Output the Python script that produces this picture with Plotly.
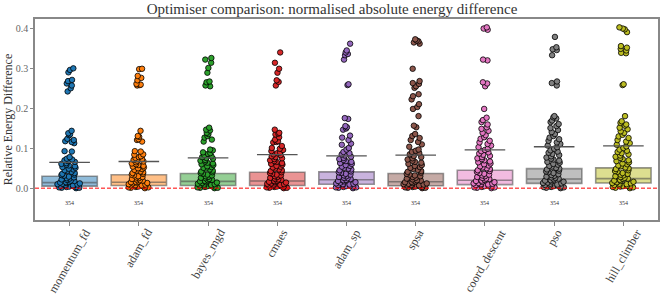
import plotly.graph_objects as go

optimisers = ["momentum_fd", "adam_fd", "bayes_mgd", "cmaes", "adam_sp",
              "spsa", "coord_descent", "pso", "hill_climber"]
colours = ["#1f77b4", "#ff7f0e", "#2ca02c", "#d62728", "#9467bd",
           "#8c564b", "#e377c2", "#7f7f7f", "#bcbd22"]
box_fill = ["rgba(31,119,180,0.5)", "rgba(255,127,14,0.5)", "rgba(44,160,44,0.5)",
            "rgba(214,39,40,0.5)", "rgba(148,103,189,0.5)", "rgba(140,86,75,0.5)",
            "rgba(227,119,194,0.5)", "rgba(127,127,127,0.5)", "rgba(188,189,34,0.5)"]

q1 = [0.005, 0.0065, 0.0065, 0.0065, 0.010, 0.006, 0.009, 0.012, 0.013]
median = [0.014, 0.015, 0.017, 0.018, 0.021, 0.016, 0.020, 0.023, 0.024]
q3 = [0.030, 0.0335, 0.037, 0.040, 0.041, 0.037, 0.045, 0.049, 0.051]
means = [0.065, 0.067, 0.076, 0.084, 0.081, 0.083, 0.096, 0.104, 0.106]
counts = [354, 354, 354, 354, 354, 354, 354, 354, 354]

# per-optimiser samples (tail + dense bulk)
momentum_fd = [0.301, 0.297, 0.291, 0.272, 0.269, 0.263, 0.258, 0.251, 0.243,
               0.144, 0.138, 0.135, 0.133, 0.124, 0.121, 0.118, 0.116, 0.113, 0.093, 0.092, 0.078,
               0.000, 0.001, 0.001, 0.002, 0.003, 0.003, 0.004, 0.005, 0.006, 0.006, 0.007, 0.008,
               0.009, 0.010, 0.011, 0.012, 0.013, 0.014, 0.015, 0.016, 0.018, 0.019, 0.021, 0.022,
               0.024, 0.025, 0.027, 0.029, 0.031, 0.033, 0.034, 0.036, 0.038, 0.041, 0.043, 0.045,
               0.047, 0.049, 0.051, 0.053, 0.055, 0.057, 0.059, 0.061, 0.063, 0.066, 0.068, 0.070,
               0.072, 0.074]
adam_fd = [0.300, 0.299, 0.282, 0.277, 0.271, 0.262, 0.260, 0.259, 0.258,
           0.144, 0.131, 0.129, 0.123, 0.121, 0.117, 0.093, 0.092, 0.085, 0.084, 0.080,
           0.000, 0.001, 0.002, 0.002, 0.003, 0.004, 0.004, 0.005, 0.006, 0.007, 0.007, 0.008,
           0.009, 0.010, 0.012, 0.013, 0.014, 0.015, 0.016, 0.017, 0.019, 0.020, 0.022, 0.023,
           0.025, 0.027, 0.028, 0.030, 0.032, 0.034, 0.036, 0.038, 0.040, 0.042, 0.044, 0.046,
           0.048, 0.050, 0.052, 0.054, 0.056, 0.058, 0.060, 0.062, 0.065, 0.067, 0.069, 0.071,
           0.073, 0.076, 0.078]
bayes_mgd = [0.327, 0.323, 0.315, 0.302, 0.290, 0.268, 0.266, 0.258, 0.256,
             0.152, 0.147, 0.145, 0.139, 0.136, 0.131, 0.127, 0.122, 0.117, 0.097, 0.095, 0.090,
             0.088, 0.086, 0.000, 0.001, 0.001, 0.002, 0.003, 0.004, 0.005, 0.005, 0.006, 0.007,
             0.008, 0.009, 0.010, 0.011, 0.013, 0.014, 0.015, 0.017, 0.018, 0.020, 0.021, 0.023,
             0.025, 0.026, 0.028, 0.030, 0.032, 0.034, 0.036, 0.038, 0.040, 0.042, 0.044, 0.047,
             0.049, 0.051, 0.053, 0.055, 0.058, 0.060, 0.062, 0.064, 0.067, 0.069, 0.071, 0.074,
             0.076, 0.078, 0.080, 0.083]
cmaes = [0.341, 0.315, 0.300, 0.290, 0.271, 0.267, 0.258,
         0.147, 0.139, 0.137, 0.135, 0.128, 0.122, 0.118, 0.116, 0.115, 0.106, 0.101, 0.099,
         0.000, 0.001, 0.001, 0.002, 0.003, 0.004, 0.004, 0.005, 0.006, 0.007, 0.008, 0.009,
         0.010, 0.011, 0.012, 0.014, 0.015, 0.016, 0.018, 0.019, 0.021, 0.022, 0.024, 0.026,
         0.028, 0.030, 0.032, 0.034, 0.036, 0.038, 0.040, 0.043, 0.045, 0.047, 0.049, 0.052,
         0.054, 0.056, 0.059, 0.061, 0.063, 0.066, 0.068, 0.070, 0.073, 0.075, 0.078, 0.080,
         0.083, 0.085, 0.088, 0.090, 0.093, 0.096]
adam_sp = [0.363, 0.346, 0.341, 0.337, 0.334, 0.323, 0.261, 0.259,
           0.176, 0.174, 0.156, 0.153, 0.150, 0.147, 0.132, 0.127, 0.121, 0.112, 0.109, 0.101,
           0.097, 0.000, 0.001, 0.002, 0.002, 0.003, 0.004, 0.005, 0.006, 0.007, 0.008, 0.009,
           0.010, 0.011, 0.012, 0.014, 0.015, 0.017, 0.018, 0.020, 0.021, 0.023, 0.025, 0.026,
           0.028, 0.030, 0.032, 0.034, 0.036, 0.038, 0.040, 0.042, 0.045, 0.047, 0.049, 0.051,
           0.054, 0.056, 0.058, 0.061, 0.063, 0.066, 0.068, 0.071, 0.073, 0.076, 0.079, 0.082,
           0.085, 0.088, 0.091]
spsa = [0.374, 0.371, 0.369, 0.366, 0.363, 0.300, 0.269, 0.264, 0.262, 0.256, 0.252,
        0.236, 0.231, 0.223, 0.211, 0.204, 0.199, 0.181, 0.157, 0.153, 0.136, 0.131, 0.126,
        0.121, 0.116, 0.110, 0.104, 0.097, 0.094,
        0.000, 0.001, 0.001, 0.002, 0.003, 0.003, 0.004, 0.005, 0.006, 0.007, 0.007, 0.008,
        0.009, 0.010, 0.011, 0.012, 0.013, 0.015, 0.016, 0.017, 0.019, 0.020, 0.022, 0.024,
        0.026, 0.028, 0.030, 0.032, 0.034, 0.036, 0.039, 0.041, 0.043, 0.046, 0.048, 0.051,
        0.053, 0.056, 0.058, 0.061, 0.064, 0.066, 0.069, 0.072, 0.075, 0.078, 0.081, 0.085,
        0.088, 0.091]
coord_descent = [0.404, 0.401, 0.398, 0.323, 0.321, 0.266, 0.263, 0.256, 0.199,
                 0.177, 0.171, 0.166, 0.160, 0.153, 0.149, 0.144, 0.139, 0.133, 0.128, 0.124,
                 0.119, 0.115, 0.111, 0.107, 0.103, 0.099,
                 0.000, 0.001, 0.002, 0.002, 0.003, 0.004, 0.005, 0.006, 0.007, 0.008, 0.009,
                 0.010, 0.011, 0.012, 0.013, 0.015, 0.016, 0.018, 0.019, 0.021, 0.023, 0.024,
                 0.026, 0.028, 0.030, 0.032, 0.034, 0.036, 0.038, 0.041, 0.043, 0.045, 0.048,
                 0.050, 0.052, 0.055, 0.057, 0.060, 0.062, 0.065, 0.067, 0.070, 0.073, 0.075,
                 0.078, 0.081, 0.084, 0.087, 0.090, 0.093, 0.096]
pso = [0.380, 0.354, 0.349, 0.347, 0.334, 0.268, 0.264, 0.258,
       0.181, 0.178, 0.175, 0.170, 0.166, 0.161, 0.156, 0.151, 0.146, 0.141, 0.136, 0.131,
       0.127, 0.123, 0.119, 0.115, 0.111, 0.107, 0.103, 0.099,
       0.000, 0.001, 0.002, 0.003, 0.003, 0.004, 0.005, 0.006, 0.007, 0.008, 0.009, 0.011,
       0.012, 0.013, 0.014, 0.016, 0.017, 0.019, 0.020, 0.022, 0.024, 0.026, 0.027, 0.029,
       0.031, 0.033, 0.035, 0.038, 0.040, 0.042, 0.044, 0.047, 0.049, 0.051, 0.054, 0.056,
       0.059, 0.061, 0.064, 0.066, 0.069, 0.072, 0.074, 0.077, 0.080, 0.083, 0.086, 0.089,
       0.092, 0.095]
hill_climber = [0.404, 0.401, 0.399, 0.392, 0.357, 0.353, 0.350, 0.346, 0.340, 0.339,
                0.261, 0.259, 0.181, 0.168, 0.164, 0.160, 0.157, 0.152, 0.148, 0.143, 0.139,
                0.134, 0.130, 0.126, 0.121, 0.117, 0.113, 0.109, 0.105, 0.101,
                0.000, 0.001, 0.002, 0.003, 0.004, 0.004, 0.005, 0.006, 0.007, 0.008, 0.010,
                0.011, 0.012, 0.013, 0.015, 0.016, 0.018, 0.019, 0.021, 0.023, 0.024, 0.026,
                0.028, 0.030, 0.032, 0.034, 0.036, 0.038, 0.041, 0.043, 0.045, 0.048, 0.050,
                0.052, 0.055, 0.057, 0.060, 0.062, 0.065, 0.068, 0.070, 0.073, 0.076, 0.079,
                0.082, 0.085, 0.088, 0.091, 0.094, 0.097]

samples = [momentum_fd, adam_fd, bayes_mgd, cmaes, adam_sp,
           spsa, coord_descent, pso, hill_climber]

SERIF = "Liberation Serif"

fig = go.Figure()

for name, fill, a, m, b in zip(optimisers, box_fill, q1, median, q3):
    fig.add_trace(go.Box(
        x=[name], q1=[a], median=[m], q3=[b], lowerfence=[a], upperfence=[b],
        width=0.8, fillcolor=fill, line=dict(color="rgba(70,70,70,0.55)", width=1.6),
        boxpoints=False, showlegend=False, hoverinfo="skip",
    ))

for name, col, vals in zip(optimisers, colours, samples):
    fig.add_trace(go.Box(
        x=[name] * len(vals), y=vals, boxpoints="all", jitter=1, pointpos=0,
        width=0.36, fillcolor="rgba(0,0,0,0)", line=dict(width=0, color="rgba(0,0,0,0)"),
        marker=dict(color=col, size=5.5, line=dict(color="black", width=0.8)),
        showlegend=False,
    ))

fig.add_trace(go.Scatter(
    x=optimisers, y=means, mode="markers", showlegend=False,
    marker=dict(symbol="line-ew", size=29, line=dict(color="#555555", width=1.3)),
))

label_y = -0.037
for name, n in zip(optimisers, counts):
    fig.add_annotation(x=name, y=label_y, text=str(n), showarrow=False,
                       font=dict(family=SERIF, size=6, color="#333333"))

# rotated category labels, centred under their ticks (matplotlib style)
for name in optimisers:
    fig.add_annotation(x=name, y=0, yref="paper", text=name, showarrow=False,
                       textangle=-60, xanchor="center", yanchor="top", yshift=-4,
                       font=dict(family=SERIF, size=12, color="#444444"))

fig.add_shape(type="line", xref="paper", x0=0, x1=1, y0=0, y1=0,
              line=dict(color="red", width=1, dash="4px,2px"))

fig.update_layout(
    width=664, height=295,
    margin=dict(l=35, r=6, t=19, b=75),
    template="plotly_white",
    plot_bgcolor="white", paper_bgcolor="white",
    boxmode="overlay",
    title=dict(text="Optimiser comparison: normalised absolute energy difference",
               x=0.5, xref="container", xanchor="center", y=0.988, yanchor="top",
               font=dict(family=SERIF, size=15, color="#333333")),
    font=dict(family=SERIF),
)
fig.update_xaxes(
    range=[-0.5, 8.5], showline=True, linecolor="#888888", linewidth=1.5, mirror=True,
    showgrid=False, ticks="outside", ticklen=4, tickcolor="#888888",
    showticklabels=False, automargin=False,
)
fig.update_yaxes(
    range=[-0.08, 0.425], tickvals=[0, 0.1, 0.2, 0.3, 0.4], tickformat=".1f",
    showline=True, linecolor="#888888", linewidth=1.5, mirror=True,
    showgrid=False, zeroline=False, ticks="outside", ticklen=3, tickcolor="#888888",
    tickfont=dict(family=SERIF, size=10, color="#666666"), automargin=False,
    title=dict(text="Relative Energy Difference", standoff=1,
               font=dict(family=SERIF, size=12, color="#333333")),
)

# the page's default body margin would shift the figure by 8px
fig.write_html("out.html", config={"displayModeBar": False},
               post_script="document.body.style.margin = '0';")
